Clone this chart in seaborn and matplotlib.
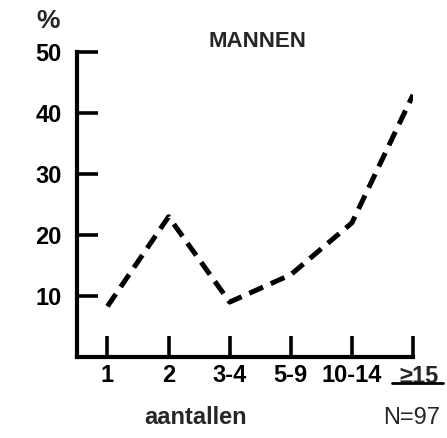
import numpy as np
import pandas as pd
import matplotlib
matplotlib.use("Agg")
import matplotlib.pyplot as plt
import seaborn as sns
from matplotlib.lines import Line2D

# DATA
categorieen = ["1", "2", "3-4", "5-9", "10-14", "≥15"]
percentages = [8.3, 23.0, 9.0, 13.5, 22.0, 43.0]
y_ticks = [10, 20, 30, 40, 50]

sns.set_theme(style="white")
plt.rcParams['font.family'] = ['Liberation Sans', 'DejaVu Sans']

df = pd.DataFrame({"pos": np.arange(len(categorieen)), "pct": percentages})

fig = plt.figure(figsize=(4.47, 4.38), dpi=100)
ax = fig.add_axes([0.172, 0.185, 0.752, 0.696])

sns.lineplot(data=df, x="pos", y="pct", ax=ax, color="black", linewidth=3.6,
             linestyle=(0, (3.0, 1.7)))

ax.set_xlim(-0.5, 5.0)
ax.set_ylim(0, 50)
ax.set_xticks(df["pos"])
ax.set_xticklabels(categorieen[:-1] + [""])
ax.set_yticks(y_ticks)
ax.set_yticklabels([str(t) for t in y_ticks])
ax.set_xlabel("")
ax.set_ylabel("")

for side in ["top", "right"]:
    ax.spines[side].set_visible(False)
for side in ["left", "bottom"]:
    ax.spines[side].set_color("black")
    ax.spines[side].set_linewidth(3.0)

ax.tick_params(axis="both", direction="in", length=15, width=2.6, color="black",
               labelsize=17, labelcolor="black", bottom=True, left=True)
ax.tick_params(axis="x", pad=5)
ax.tick_params(axis="y", pad=11)
for lbl in ax.get_xticklabels() + ax.get_yticklabels():
    lbl.set_fontweight("bold")

# laatste categorie met onderstreping
ax.text(5.1, -0.025, categorieen[-1], transform=ax.get_xaxis_transform(),
        ha="center", va="top", fontsize=17, fontweight="bold")
fig.add_artist(Line2D([0.877, 0.99], [0.126, 0.126], color="black", linewidth=2.0,
                      transform=fig.transFigure))

fig.text(0.107, 0.952, "%", fontsize=19, fontweight="bold", ha="center", va="center")
fig.text(0.575, 0.905, "MANNEN", fontsize=16, fontweight="bold", ha="center", va="center")
fig.text(0.438, 0.033, "aantallen", fontsize=17, fontweight="bold", ha="center", va="baseline")
fig.text(0.985, 0.033, "N=97", fontsize=17, ha="right", va="baseline")

fig.savefig("out.png", dpi=100, facecolor="white")
